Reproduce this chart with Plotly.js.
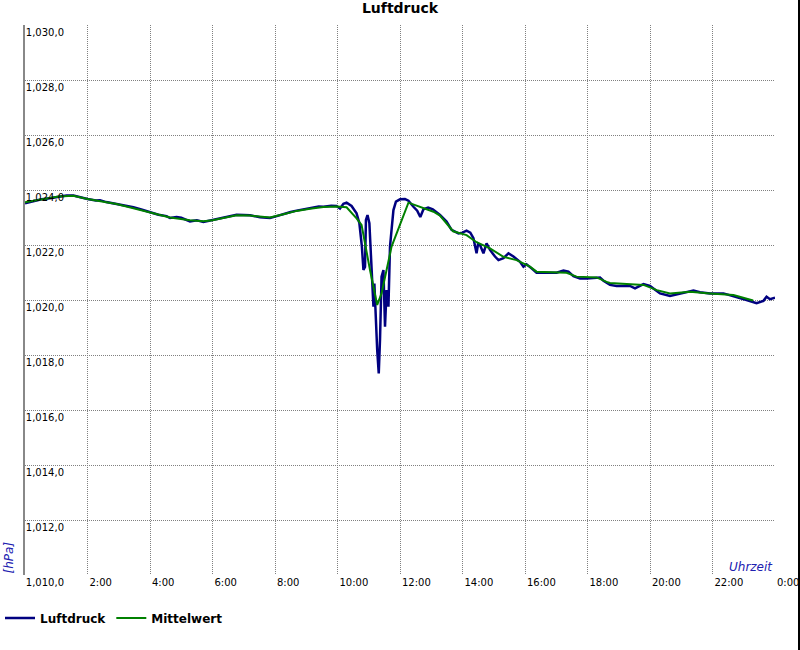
<!DOCTYPE html>
<html><head><meta charset="utf-8">
<script src="https://cdn.plot.ly/plotly-3.0.1.min.js"></script>
<style>html,body{margin:0;padding:0;background:#fff;} #chart{width:800px;height:650px;}</style>
</head><body><div id="chart"></div>
<script>
// Time in hours (0 = 0:00, 24 = next 0:00)
const timeLuftdruck = [
  0.00,0.10,0.27,0.53,0.80,1.07,1.33,1.55,1.76,2.00,2.27,2.40,2.60,2.93,3.20,3.47,3.75,4.00,4.27,4.53,
  4.64,4.85,5.00,5.28,5.50,5.71,6.00,6.35,6.60,6.77,7.00,7.20,7.52,7.84,8.00,8.27,8.50,8.69,9.12,9.40,
  9.55,9.80,9.97,10.08,10.19,10.29,10.45,10.61,10.70,10.74,10.78,10.83,10.88,10.91,10.96,11.02,11.09,11.15,11.18,11.23,
  11.27,11.32,11.36,11.41,11.47,11.52,11.57,11.63,11.68,11.73,11.79,11.87,12.00,12.16,12.27,12.43,12.55,12.65,12.75,12.90,
  13.05,13.28,13.49,13.65,13.87,14.00,14.13,14.25,14.35,14.45,14.50,14.56,14.67,14.77,14.88,15.04,15.15,15.31,15.47,15.63,
  15.84,15.95,16.05,16.21,16.37,16.69,17.01,17.23,17.39,17.55,17.76,17.97,18.29,18.40,18.51,18.72,18.93,19.36,19.52,19.79,
  20.00,20.16,20.32,20.64,20.85,21.17,21.39,21.60,21.92,22.35,22.61,22.88,23.09,23.41,23.63,23.73,23.84,24.00
];
const luftdruck = [
  1023.52,1023.55,1023.61,1023.66,1023.70,1023.76,1023.80,1023.80,1023.73,1023.67,1023.62,1023.63,1023.56,1023.49,1023.43,1023.37,1023.28,1023.19,1023.10,1023.05,
  1022.98,1023.02,1022.99,1022.86,1022.90,1022.84,1022.91,1022.99,1023.05,1023.10,1023.09,1023.08,1023.01,1022.98,1023.03,1023.13,1023.20,1023.25,1023.33,1023.40,
  1023.39,1023.43,1023.42,1023.33,1023.50,1023.54,1023.42,1023.15,1022.79,1022.36,1021.94,1021.09,1021.20,1022.91,1023.09,1022.79,1021.33,1019.76,1020.60,1018.91,
  1018.18,1017.33,1018.55,1020.85,1021.09,1019.03,1020.36,1019.76,1021.94,1022.55,1023.27,1023.58,1023.66,1023.67,1023.61,1023.39,1023.25,1023.02,1023.30,1023.36,
  1023.30,1023.09,1022.85,1022.55,1022.42,1022.45,1022.52,1022.45,1022.25,1021.70,1022.05,1022.00,1021.70,1022.06,1021.82,1021.58,1021.45,1021.52,1021.70,1021.58,
  1021.39,1021.21,1021.30,1021.15,1020.99,1020.99,1020.99,1021.07,1021.03,1020.87,1020.78,1020.78,1020.82,1020.82,1020.70,1020.55,1020.51,1020.51,1020.42,1020.58,
  1020.51,1020.39,1020.24,1020.15,1020.20,1020.28,1020.34,1020.28,1020.24,1020.24,1020.16,1020.08,1020.00,1019.88,1019.97,1020.12,1020.03,1020.08
];
const timeMittelwert = [
  0.00,0.53,1.07,1.55,2.00,2.93,4.00,4.64,5.28,5.71,6.00,6.35,6.77,7.20,7.84,8.27,8.69,9.12,9.55,9.97,
  10.29,10.61,10.77,11.04,11.27,11.41,11.73,12.27,13.07,13.28,13.70,14.13,14.45,14.88,15.31,15.73,16.16,16.37,17.33,17.65,
  18.29,18.61,18.72,19.79,20.22,20.64,21.28,21.92,22.67,23.30
];
const mittelwert = [
  1023.55,1023.65,1023.76,1023.79,1023.67,1023.49,1023.19,1023.00,1022.90,1022.86,1022.90,1022.98,1023.08,1023.07,1023.00,1023.12,1023.24,1023.32,1023.38,1023.40,
  1023.37,1022.97,1022.73,1021.09,1019.82,1020.24,1021.94,1023.54,1023.21,1023.07,1022.50,1022.36,1022.10,1021.88,1021.57,1021.45,1021.21,1021.03,1020.99,1020.85,
  1020.82,1020.66,1020.62,1020.55,1020.36,1020.24,1020.30,1020.24,1020.18,1019.98
];
const xTickVals = [2,4,6,8,10,12,14,16,18,20,22,24];
const xTickText = ['2:00','4:00','6:00','8:00','10:00','12:00','14:00','16:00','18:00','20:00','22:00','0:00'];
const yTickVals = [1010,1012,1014,1016,1018,1020,1022,1024,1026,1028,1030];
const yTickText = ['1,010,0','1,012,0','1,014,0','1,016,0','1,018,0','1,020,0','1,022,0','1,024,0','1,026,0','1,028,0','1,030,0'];

const traces = [
  {x: timeLuftdruck, y: luftdruck, type: 'scatter', mode: 'lines', name: 'Luftdruck',
   line: {color: '#000080', width: 2.5}, hoverinfo: 'skip'},
  {x: timeMittelwert, y: mittelwert, type: 'scatter', mode: 'lines', name: 'Mittelwert',
   line: {color: '#008000', width: 2}, hoverinfo: 'skip'}
];

const axisTitleColor = '#2020b0';
const layout = {
  width: 800, height: 650,
  margin: {l: 25, r: 25, t: 25, b: 75, pad: 0, autoexpand: false},
  paper_bgcolor: '#ffffff', plot_bgcolor: '#ffffff',
  font: {family: 'DejaVu Sans', size: 10, color: '#000000'},
  title: {text: 'Luftdruck', font: {family: 'DejaVu Sans', size: 14, weight: 'bold', color: '#000'},
          x: 0.5, xref: 'paper', xanchor: 'center', y: 1 - 8/650, yref: 'container', yanchor: 'middle'},
  xaxis: {range: [0, 24], tickvals: xTickVals, ticktext: xTickText, ticklabelposition: 'outside right',
          ticklabelshift: 2,
          showgrid: true, gridcolor: '#808080', griddash: '1px,1px', gridwidth: 1, zeroline: false,
          showline: false, ticks: '', tickfont: {size: 10, color: '#000'}, fixedrange: true},
  yaxis: {range: [1010, 1030], tickvals: yTickVals, ticktext: yTickText, ticklabelposition: 'outside bottom',
          ticklabelstandoff: -43,
          showgrid: true, gridcolor: '#808080', griddash: '1px,1px', gridwidth: 1, zeroline: false,
          showline: true, linecolor: '#888888', linewidth: 2, ticks: '', tickfont: {size: 10, color: '#000'}, fixedrange: true},
  showlegend: true,
  legend: {orientation: 'h', xref: 'container', x: -3/800, xanchor: 'left', yref: 'container', y: 1 - 603.5/650, yanchor: 'top',
           font: {family: 'DejaVu Sans', size: 12, weight: 'bold', color: '#000'},
           bgcolor: 'rgba(0,0,0,0)', traceorder: 'normal', itemwidth: 30},
  annotations: [
    {text: '[hPa]', xref: 'paper', yref: 'paper', x: -16.5/750, y: 17/550, xanchor: 'center', yanchor: 'middle',
     textangle: -90, showarrow: false, font: {family: 'DejaVu Sans', size: 12, style: 'italic', color: axisTitleColor}},
    {text: 'Uhrzeit', xref: 'paper', yref: 'paper', x: 1, y: 8/550, xanchor: 'right', yanchor: 'middle',
     showarrow: false, font: {family: 'DejaVu Sans', size: 12, style: 'italic', color: axisTitleColor}}
  ],
  shapes: [
    {type: 'line', xref: 'paper', yref: 'paper', x0: 774/750, x1: 774/750, y0: -75/550, y1: 575/550,
     line: {color: '#000000', width: 2}}
  ]
};

Plotly.newPlot('chart', traces, layout, {displayModeBar: false, staticPlot: true});
</script>
</body></html>
